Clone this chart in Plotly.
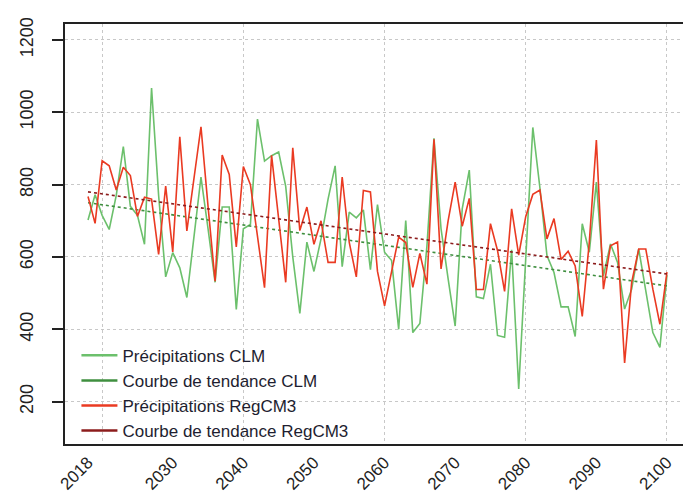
import plotly.graph_objects as go

years = list(range(2018, 2101))

clm = [702, 772, 715, 676, 770, 905, 740, 715, 635, 1067,
       770, 545, 612, 570, 488, 650, 821, 678, 530, 738,
       738, 455, 678, 690, 981, 865, 880, 890, 795, 600,
       444, 641, 560, 650, 760, 852, 573, 724, 708, 730,
       565, 745, 613, 590, 400, 701, 391, 416, 630, 928,
       678, 540, 409, 733, 840, 490, 485, 580, 383, 378,
       620, 235, 610, 958, 792, 604, 557, 462, 462, 380,
       692, 613, 807, 548, 636, 585, 456, 511, 622, 511,
       391, 350, 550]

regcm3 = [767, 693, 866, 852, 785, 848, 825, 712, 765, 760,
          607, 796, 614, 932, 672, 815, 960, 740, 533, 882,
          828, 628, 850, 800, 660, 515, 881, 700, 530, 902,
          673, 738, 635, 700, 585, 585, 821, 640, 545, 784,
          780, 560, 465, 560, 655, 640, 516, 610, 525, 925,
          567, 700, 807, 685, 762, 510, 510, 692, 618, 505,
          733, 605, 712, 773, 785, 650, 706, 593, 616, 575,
          436, 641, 923, 511, 631, 641, 307, 530, 622, 622,
          511, 414, 558]

trend_years = [2018, 2100]
trend_clm = [750, 520]
trend_regcm3 = [780, 553]

xtick_vals = [2018, 2030, 2040, 2050, 2060, 2070, 2080, 2090, 2100]
xtick_text = [str(v) for v in xtick_vals]
xgrid_vals = [2020, 2040, 2060, 2080, 2100]
ytick_vals = [200, 400, 600, 800, 1000, 1200]

names = ["Précipitations CLM", "Courbe de tendance CLM",
         "Précipitations RegCM3", "Courbe de tendance RegCM3"]

FONT = "Arial, Liberation Sans, sans-serif"
C_CLM, C_CLM_T = "#6cc06c", "#3f8f3f"
C_REG, C_REG_T = "#ea3a22", "#8c1c1c"

fig = go.Figure()
# plotted series (trend lines dashed, hidden from legend)
fig.add_trace(go.Scatter(x=years, y=clm, mode="lines", name=names[0], showlegend=False,
                         line=dict(color=C_CLM, width=1.6)))
fig.add_trace(go.Scatter(x=trend_years, y=trend_clm, mode="lines", name=names[1],
                         showlegend=False, line=dict(color=C_CLM_T, width=1.6, dash="3px,3px")))
fig.add_trace(go.Scatter(x=years, y=regcm3, mode="lines", name=names[2], showlegend=False,
                         line=dict(color=C_REG, width=1.6)))
fig.add_trace(go.Scatter(x=trend_years, y=trend_regcm3, mode="lines", name=names[3],
                         showlegend=False, line=dict(color=C_REG_T, width=1.6, dash="3px,3px")))
# legend entries with solid line samples, as in the original legend
for nm, col in zip(names, [C_CLM, C_CLM_T, C_REG, C_REG_T]):
    fig.add_trace(go.Scatter(x=[None], y=[None], mode="lines", name=nm,
                             line=dict(color=col, width=2.5)))

fig.update_layout(
    width=683, height=504,
    margin=dict(l=65, r=0, t=24, b=60, autoexpand=False),
    paper_bgcolor="white", plot_bgcolor="white",
    font=dict(family=FONT, size=17, color="#222"),
    showlegend=True,
    legend=dict(x=0.0185, y=0.253, xanchor="left", yanchor="top",
                bgcolor="rgba(0,0,0,0)", borderwidth=0,
                font=dict(family=FONT, size=17, color="#1e1e30"),
                tracegroupgap=0, itemwidth=36),
    xaxis=dict(range=[2014.74, 2102.27], tickmode="array",
               tickvals=xtick_vals, ticktext=xtick_text, tickangle=-45,
               ticks="", showgrid=False, zeroline=False, automargin=False,
               showline=True, linecolor="#222", linewidth=2, mirror=True,
               tickfont=dict(size=17, color="#222"),
               minor=dict(tickmode="array", tickvals=xgrid_vals, showgrid=True,
                          gridcolor="#c8c8c8", griddash="dot", gridwidth=1, ticks="")),
    yaxis=dict(range=[83, 1244], tickmode="array", tickvals=ytick_vals,
               ticks="outside", ticklen=11, tickwidth=1.5, tickcolor="#222",
               ticklabelstandoff=12, automargin=False,
               tickangle=-90, showgrid=True, gridcolor="#c8c8c8", griddash="dot",
               gridwidth=1, zeroline=False, showline=True, linecolor="#222",
               linewidth=2, mirror=False, tickfont=dict(size=18, color="#222")),
)

fig.write_html("out.html", config={"displayModeBar": False},
               post_script="document.body.style.margin='0px';document.body.style.padding='0px';")
